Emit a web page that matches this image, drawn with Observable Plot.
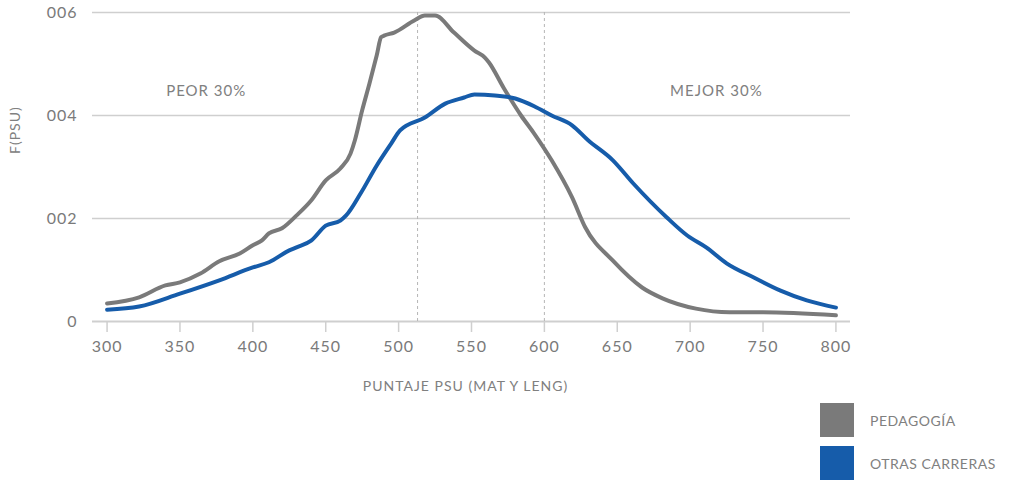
<!DOCTYPE html>
<html>
<head>
<meta charset="utf-8">
<script src="https://cdn.jsdelivr.net/npm/d3@7"></script>
<script src="https://cdn.jsdelivr.net/npm/@observablehq/plot@0.6"></script>
<style>
  body { margin: 0; background: #fff; }
  #wrap { position: relative; width: 1013px; height: 480px; font-family: "Lato", sans-serif; }
  .legend { position: absolute; left: 820px; top: 403px; }
  .item { display: flex; align-items: center; height: 34px; margin-bottom: 9px; }
  .sw { width: 34px; height: 34px; margin-right: 16px; }
  .lab { font-size: 14px; letter-spacing: 0.5px; color: #808080; }
</style>
</head>
<body>
<div id="wrap"></div>
<script>
// Series: Pedagogía
const pedagogiaX = [300,322,340,350,364,377,391,400,406,411,420,430,440,450,460,467,470,475,480,485,488,490,497,511,518,525,538,552,559,562,572,584,593,605,619,628,647,667,681,704,727,750,800];
const pedagogiaY = [0.00035,0.00047,0.0007,0.00076,0.00093,0.00117,0.00132,0.00148,0.00157,0.00171,0.00181,0.00206,0.00235,0.00274,0.00297,0.00326,0.00352,0.0041,0.00462,0.00517,0.00552,0.00555,0.00561,0.00585,0.00594,0.00594,0.00561,0.00526,0.00513,0.00503,0.00454,0.004,0.00365,0.00313,0.00241,0.00183,0.00118,0.00066,0.00045,0.00025,0.00018,0.00018,0.00012];
// Series: Otras carreras
const otrasX = [300,322,350,377,400,411,425,430,440,450,460,464,474,485,495,501,518,532,545,552,566,580,593,605,619,630,647,661,684,698,711,725,744,762,780,800];
const otrasY = [0.00023,0.00029,0.00054,0.0008,0.00105,0.00115,0.00138,0.00144,0.00157,0.00186,0.00196,0.00206,0.00249,0.00303,0.00346,0.00371,0.00396,0.00423,0.00435,0.00441,0.00439,0.00433,0.00418,0.004,0.00381,0.00352,0.00313,0.00268,0.00202,0.00167,0.00144,0.00113,0.00085,0.0006,0.00041,0.00027];

const seriesNames = ["PEDAGOGÍA", "OTRAS CARRERAS"];
const seriesColors = ["#7a7a7a", "#165caa"];

const xTicks = [300,350,400,450,500,550,600,650,700,750,800];
const yTicks = [0, 0.002, 0.004, 0.006];
const yTickLabels = ["0", "002", "004", "006"];
const cutoffs = [513, 600];
const zoneLabels = ["PEOR 30%", "MEJOR 30%"];
const zoneX = [368, 718];
const zoneY = [0.00448, 0.00448];
const xTitle = "PUNTAJE PSU (MAT Y LENG)";
const yTitle = "F(PSU)";

const rows = [
  ...pedagogiaX.map((x, i) => ({x, y: pedagogiaY[i], s: seriesNames[0]})),
  ...otrasX.map((x, i) => ({x, y: otrasY[i], s: seriesNames[1]}))
];
const zones = zoneLabels.map((t, i) => ({t, x: zoneX[i], y: zoneY[i]}));

const chart = Plot.plot({
  width: 1013,
  height: 480,
  marginLeft: 92,
  marginRight: 163,
  marginTop: 12,
  marginBottom: 159,
  style: {fontFamily: "Lato, sans-serif", fontSize: "16px", color: "#7a7a7a", background: "#fff"},
  x: {domain: [290, 810]},
  y: {domain: [0, 0.006]},
  color: {domain: seriesNames, range: seriesColors},
  marks: [
    Plot.ruleY(yTicks.slice(1), {stroke: "#cfcfcf", strokeWidth: 1.5}),
    Plot.ruleY([0], {stroke: "#cfcfcf", strokeWidth: 2}),
    Plot.ruleX(cutoffs, {stroke: "#b5b5b5", strokeWidth: 1, strokeDasharray: "3,3"}),
    Plot.axisX({ticks: xTicks, tickSize: 11, tickPadding: 8, stroke: "#cfcfcf", strokeWidth: 1.5, label: null, fill: "#7a7a7a"}),
    Plot.axisY({ticks: yTicks, tickSize: 0, tickPadding: 15, tickFormat: (d) => yTickLabels[yTicks.indexOf(d)], label: null, fill: "#7a7a7a"}),
    Plot.line(rows, {x: "x", y: "y", z: "s", stroke: "s", strokeWidth: 4, curve: "monotone-x"}),
    Plot.text(zones, {x: "x", y: "y", text: "t", fontSize: 15, fill: "#808080"}),
    Plot.text([xTitle], {frameAnchor: "bottom", dy: 69, dx: -6, fontSize: 14, fill: "#808080"}),
    Plot.text([yTitle], {frameAnchor: "left", dx: -77, dy: -13, rotate: -90, fontSize: 14, fill: "#808080"})
  ]
});
chart.querySelectorAll("text").forEach(t => t.style.letterSpacing = "1px");
const wrap = document.getElementById("wrap");
wrap.appendChild(chart);

const legend = document.createElement("div");
legend.className = "legend";
seriesNames.forEach((n, i) => {
  const item = document.createElement("div");
  item.className = "item";
  const sw = document.createElement("div");
  sw.className = "sw";
  sw.style.background = seriesColors[i];
  const lab = document.createElement("span");
  lab.className = "lab";
  lab.textContent = n;
  item.appendChild(sw);
  item.appendChild(lab);
  legend.appendChild(item);
});
wrap.appendChild(legend);
</script>
</body>
</html>
